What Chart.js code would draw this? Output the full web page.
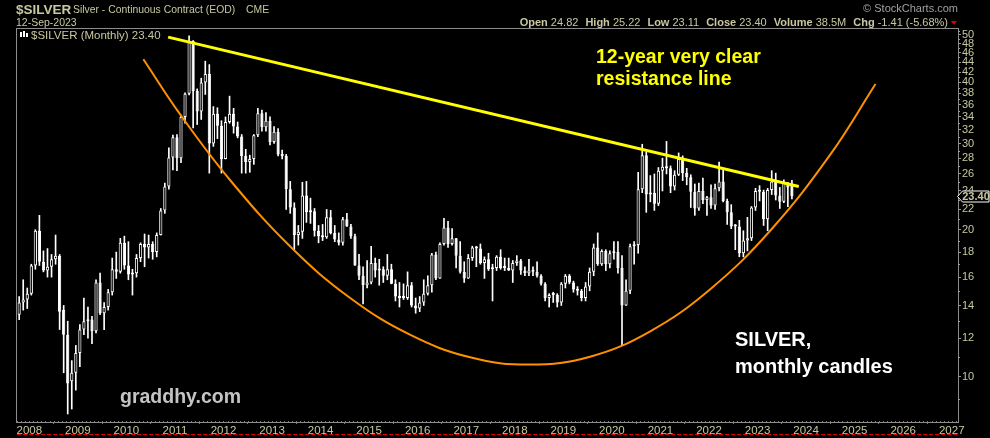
<!DOCTYPE html>
<html>
<head>
<meta charset="utf-8">
<title>$SILVER monthly</title>
<script src="https://cdn.jsdelivr.net/npm/chart.js@4.4.1/dist/chart.umd.min.js"></script>
<style>
    html, body { margin: 0; padding: 0; background: #000; }
    #wrap { width: 990px; height: 438px; }
    canvas { display: block; background: #000; }
</style>
</head>
<body>
<div id="wrap"><canvas id="silverChart" width="990" height="438"></canvas></div>
<script>
// ===================================
// DATA (monthly candles, Oct 2007 - Sep 2023)
// ===================================

const firstYear = 2007;
const firstMonth = 10;

const opens = [
    13.40, 14.20, 14.40,                                                           // 2007
    14.80, 16.90, 19.90, 17.20, 16.50, 16.80, 17.40, 17.70, 13.70, 12.20, 9.80, 10.20,   // 2008
    11.20, 12.50, 13.00, 13.10, 12.40, 15.60, 13.50, 13.90, 14.90, 16.60, 16.40, 18.80,  // 2009
    16.90, 16.20, 16.30, 17.50, 18.70, 18.40, 18.70, 18.00, 19.50, 21.90, 24.50, 28.10,  // 2010
    30.90, 28.00, 34.00, 37.90, 48.60, 38.40, 34.90, 40.00, 41.60, 30.00, 34.50, 32.60,  // 2011
    27.90, 33.20, 34.50, 32.50, 31.00, 28.30, 27.50, 27.90, 31.20, 34.60, 32.40, 33.40,  // 2012
    30.20, 31.70, 28.50, 28.30, 24.20, 22.20, 19.50, 19.80, 23.50, 21.70, 21.80, 19.90,  // 2013
    19.40, 19.30, 21.20, 19.70, 19.10, 18.80, 21.00, 20.30, 19.40, 16.90, 16.10, 15.40,  // 2014
    15.60, 17.10, 16.50, 16.60, 16.10, 16.60, 15.50, 14.60, 14.50, 14.50, 15.40, 14.00,  // 2015
    13.80, 14.20, 14.80, 15.40, 17.80, 15.90, 18.70, 20.20, 18.70, 19.20, 17.70, 16.40,  // 2016
    15.90, 17.50, 18.40, 18.30, 17.10, 17.40, 16.60, 16.70, 17.60, 16.70, 16.70, 16.50,  // 2017
    17.10, 17.30, 16.50, 16.30, 16.50, 16.40, 16.10, 15.50, 14.50, 14.70, 14.70, 14.20,  // 2018
    15.50, 16.10, 15.60, 15.10, 15.00, 14.50, 15.30, 16.40, 18.40, 17.00, 18.10, 17.00,  // 2019
    17.90, 18.00, 16.70, 14.00, 15.00, 18.50, 18.60, 24.20, 28.40, 23.60, 23.80, 22.60,  // 2020
    26.40, 26.90, 26.70, 24.50, 25.90, 27.90, 26.10, 25.60, 23.90, 22.10, 24.00, 23.00,  // 2021
    23.30, 22.40, 24.30, 25.10, 22.90, 21.70, 20.30, 20.30, 17.90, 19.00, 19.20, 22.20,  // 2022
    24.00, 23.90, 21.00, 24.10, 25.10, 23.50, 22.80, 24.90, 24.82                        // 2023
];

const highs = [
    14.60, 15.80, 15.20,
    17.00, 20.00, 21.40, 18.10, 18.30, 17.80, 19.50, 17.80, 14.00, 13.00, 10.80, 11.60,
    12.80, 14.50, 13.90, 13.30, 15.80, 16.30, 14.20, 15.10, 17.50, 18.00, 19.20, 19.40,
    18.90, 16.60, 17.80, 18.80, 19.60, 19.50, 18.90, 19.70, 22.10, 24.90, 29.40, 31.20,
    31.30, 34.30, 38.10, 49.80, 48.70, 38.80, 40.80, 44.20, 43.50, 35.70, 35.50, 33.40,
    34.00, 37.50, 35.40, 33.20, 31.30, 29.20, 28.40, 31.30, 35.40, 35.10, 34.70, 34.00,
    32.50, 32.20, 29.10, 28.50, 25.10, 22.70, 20.40, 25.00, 25.10, 23.20, 22.10, 20.40,
    20.50, 22.00, 21.90, 20.40, 19.70, 21.20, 21.60, 20.50, 19.60, 17.80, 16.80, 17.30,
    18.50, 17.50, 17.40, 16.80, 17.80, 17.00, 15.80, 15.60, 15.50, 16.40, 15.60, 14.50,
    14.60, 15.80, 16.10, 17.90, 18.00, 18.80, 21.10, 20.80, 20.10, 19.20, 18.90, 17.20,
    17.80, 18.50, 18.50, 18.70, 17.60, 17.90, 17.00, 17.70, 18.20, 17.50, 17.50, 17.30,
    17.70, 17.40, 16.80, 17.40, 16.80, 17.20, 16.20, 15.60, 14.80, 14.90, 14.80, 15.60,
    16.20, 16.20, 15.70, 15.30, 15.10, 15.60, 16.70, 18.70, 19.70, 18.20, 18.20, 18.10,
    18.90, 18.90, 17.70, 15.80, 18.70, 18.90, 26.20, 29.90, 28.80, 25.80, 26.00, 26.80,
    28.00, 30.30, 27.00, 26.40, 28.70, 28.30, 26.70, 25.90, 24.80, 24.90, 25.50, 23.40,
    24.70, 24.80, 27.50, 26.50, 23.10, 22.50, 20.50, 20.90, 19.90, 21.20, 22.30, 24.30,
    24.60, 24.10, 24.30, 26.40, 26.10, 24.40, 25.30, 25.00, 25.22
];

const lows = [
    13.10, 13.70, 13.80,
    14.70, 16.60, 16.90, 16.40, 16.00, 16.00, 17.00, 12.50, 10.20, 8.40, 8.60, 9.40,
    10.50, 12.20, 12.00, 11.70, 12.30, 13.40, 12.50, 13.70, 14.70, 15.90, 16.30, 16.60,
    15.80, 14.70, 16.00, 17.20, 16.80, 17.50, 17.40, 17.60, 19.50, 21.60, 24.20, 26.50,
    26.40, 27.40, 33.00, 37.70, 32.30, 32.80, 33.60, 37.80, 26.10, 29.60, 30.70, 26.10,
    27.90, 33.00, 31.50, 30.80, 26.10, 26.10, 26.20, 27.20, 31.00, 31.80, 31.80, 29.80,
    30.00, 28.30, 27.90, 22.00, 21.60, 18.20, 18.60, 19.20, 20.70, 20.60, 19.40, 18.80,
    19.00, 19.20, 19.60, 18.90, 18.60, 18.60, 20.30, 19.20, 16.90, 15.80, 14.10, 15.20,
    15.50, 16.00, 15.40, 15.60, 15.80, 15.50, 14.30, 13.90, 14.40, 14.40, 13.90, 13.50,
    13.60, 14.00, 14.70, 14.90, 15.80, 15.90, 18.60, 18.40, 18.60, 16.70, 16.30, 15.60,
    15.90, 17.30, 16.80, 17.00, 15.90, 16.50, 14.30, 16.50, 16.60, 16.50, 16.50, 15.60,
    16.90, 16.20, 16.10, 16.10, 16.10, 16.00, 15.40, 14.30, 13.90, 14.20, 13.90, 14.00,
    15.20, 15.50, 14.90, 14.70, 14.30, 14.30, 15.00, 16.10, 16.90, 16.90, 16.50, 16.70,
    17.40, 16.30, 11.60, 14.00, 14.80, 17.00, 17.90, 23.80, 21.70, 22.80, 21.90, 22.40,
    24.00, 26.00, 23.80, 24.10, 25.80, 25.20, 24.70, 22.20, 21.40, 21.90, 22.60, 21.40,
    22.10, 22.00, 24.00, 22.80, 20.50, 20.10, 18.20, 17.60, 17.60, 18.10, 19.00, 21.90,
    22.90, 20.40, 19.90, 23.60, 23.00, 22.10, 22.70, 22.30, 23.11
];

const closes = [
    14.20, 14.40, 14.80,
    16.90, 19.90, 17.20, 16.50, 16.80, 17.40, 17.70, 13.60, 12.20, 9.70, 10.20, 11.20,
    12.50, 13.00, 13.10, 12.40, 15.60, 13.50, 13.90, 14.90, 16.60, 16.40, 18.80, 16.90,
    16.20, 16.30, 17.50, 18.70, 18.40, 18.70, 18.00, 19.50, 21.90, 24.50, 28.10, 30.90,
    28.00, 34.00, 37.90, 48.60, 38.40, 34.90, 40.00, 41.60, 30.00, 34.50, 32.60, 27.90,
    33.20, 34.50, 32.50, 31.00, 28.30, 27.50, 27.90, 31.20, 34.60, 32.40, 33.40, 30.20,
    31.70, 28.50, 28.30, 24.20, 22.20, 19.50, 19.80, 23.50, 21.70, 21.80, 19.90, 19.40,
    19.30, 21.20, 19.70, 19.10, 18.80, 21.00, 20.30, 19.40, 16.90, 16.10, 15.40, 15.60,
    17.10, 16.50, 16.60, 16.10, 16.60, 15.50, 14.60, 14.50, 14.50, 15.40, 14.00, 13.80,
    14.20, 14.80, 15.40, 17.80, 15.90, 18.70, 20.20, 18.70, 19.20, 17.70, 16.40, 15.90,
    17.50, 18.40, 18.30, 17.10, 17.40, 16.60, 16.70, 17.60, 16.70, 16.70, 16.50, 17.10,
    17.30, 16.50, 16.30, 16.50, 16.40, 16.10, 15.50, 14.50, 14.70, 14.70, 14.20, 15.50,
    16.10, 15.60, 15.10, 15.00, 14.50, 15.30, 16.40, 18.40, 17.00, 18.10, 17.00, 17.90,
    18.00, 16.70, 14.00, 15.00, 18.50, 18.60, 24.20, 28.40, 23.60, 23.80, 22.60, 26.40,
    26.90, 26.70, 24.50, 25.90, 27.90, 26.10, 25.60, 23.90, 22.10, 24.00, 23.00, 23.30,
    22.40, 24.30, 25.10, 22.90, 21.70, 20.30, 20.30, 17.90, 19.00, 19.20, 22.20, 24.00,
    23.90, 21.00, 24.10, 25.10, 23.50, 22.80, 24.90, 24.40, 23.40
];

// drawn overlays (decimal year, price)
const resistanceDates = [2010.86, 2023.85];
const resistancePrices = [49.5, 24.5];

const arcDates = [2010.35, 2011.10, 2012.13, 2013.37, 2014.61, 2015.84, 2017.08, 2018.31,
                  2019.55, 2020.79, 2022.02, 2023.26, 2024.49, 2025.43];
const arcPrices = [44.6, 34.5, 25.3, 18.5, 14.5, 12.2, 10.97, 10.6,
                   11.0, 12.4, 15.1, 19.9, 28.4, 39.7];

const priceTicks = [10, 12, 14, 16, 18, 20, 22, 24, 26, 28, 30, 32, 34, 36, 38, 40, 42, 44, 46, 48, 50];
const yearTicks = [2008, 2009, 2010, 2011, 2012, 2013, 2014, 2015, 2016, 2017,
                   2018, 2019, 2020, 2021, 2022, 2023, 2024, 2025, 2026, 2027];

// ===================================
// COLORS / FONTS
// ===================================

const colors = {
    bg: '#000000',
    text: '#c8c8a0',
    frame: '#8c8c8c',
    candle: '#ffffff',
    resistance: '#ffff00',
    arc: '#ff9000',
    red: '#e00000',
    watermark: '#c4c4c4'
};

const fontFamily = "'Liberation Sans', Arial, sans-serif";

// month centre as decimal year
function monthX(i) {
    return firstYear + (firstMonth - 1 + i + 0.5) / 12;
}

const wickData = highs.map((h, i) => ({ x: monthX(i), y: [lows[i], h] }));
const bodyData = opens.map((o, i) => ({ x: monthX(i), y: [o, closes[i]] }));
const resistanceData = resistanceDates.map((d, i) => ({ x: d, y: resistancePrices[i] }));
const arcData = arcDates.map((d, i) => ({ x: d, y: arcPrices[i] }));

const isUp = i => closes[i] >= opens[i];

// ===================================
// DECORATION PLUGIN (header, frame, labels)
// ===================================

const stockChartsDecor = {
    id: 'stockChartsDecor',
    beforeDraw(chart) {
        const ctx = chart.ctx;
        ctx.save();
        ctx.fillStyle = colors.bg;
        ctx.fillRect(0, 0, chart.width, chart.height);
        ctx.restore();
    },
    afterDraw(chart) {
        const ctx = chart.ctx;
        const area = chart.chartArea;
        const x = chart.scales.x;
        const y = chart.scales.y;
        const last = closes.length - 1;
        ctx.save();

        // plot frame
        ctx.strokeStyle = colors.frame;
        ctx.lineWidth = 1;
        ctx.strokeRect(area.left - 0.5, area.top - 0.5, area.right - area.left + 1, area.bottom - area.top + 1);

        // minor ticks: odd prices on the right, months along the bottom
        ctx.strokeStyle = '#999';
        ctx.beginPath();
        for (let v = 9; v <= 51; v += 2) {
            const py = Math.round(y.getPixelForValue(v)) + 0.5;
            ctx.moveTo(area.right, py);
            ctx.lineTo(area.right + 2, py);
        }
        ctx.stroke();
        ctx.strokeStyle = '#777';
        ctx.beginPath();
        for (let m = 0; m < 12 * 20; m++) {
            const t = 2007.75 + m / 12;
            if (t > x.max) break;
            const px = Math.round(x.getPixelForValue(t)) + 0.5;
            ctx.moveTo(px, area.bottom - 1);
            ctx.lineTo(px, area.bottom);
        }
        ctx.stroke();

        // header
        ctx.textBaseline = 'alphabetic';
        ctx.textAlign = 'left';
        ctx.fillStyle = colors.text;
        ctx.font = 'bold 13.5px ' + fontFamily;
        ctx.fillText('$SILVER', 16, 13.5);
        ctx.font = '10.4px ' + fontFamily;
        ctx.fillText('Silver - Continuous Contract (EOD)', 73, 12.5);
        ctx.fillText('CME', 246, 12.5);
        ctx.font = '10.5px ' + fontFamily;
        ctx.fillText('12-Sep-2023', 16, 26);

        ctx.fillStyle = '#a0a0a0';
        ctx.textAlign = 'right';
        ctx.font = '11px ' + fontFamily;
        ctx.fillText('\u00a9 StockCharts.com', 958, 12);

        // OHLC summary line, right aligned
        const parts = [
            ['Open', opens[last].toFixed(2)],
            ['High', highs[last].toFixed(2)],
            ['Low', lows[last].toFixed(2)],
            ['Close', closes[last].toFixed(2)],
            ['Volume', '38.5M'],
            ['Chg', '-1.41 (-5.68%)']
        ];
        const boldFont = 'bold 11px ' + fontFamily;
        const normFont = '11px ' + fontFamily;
        let total = 0;
        parts.forEach(([label, val], k) => {
            ctx.font = boldFont;
            total += ctx.measureText(label + ' ').width;
            ctx.font = normFont;
            total += ctx.measureText(val).width + (k < parts.length - 1 ? 7 : 0);
        });
        let px = 948 - total;
        ctx.textAlign = 'left';
        ctx.fillStyle = colors.text;
        parts.forEach(([label, val]) => {
            ctx.font = boldFont;
            ctx.fillText(label + ' ', px, 26);
            px += ctx.measureText(label + ' ').width;
            ctx.font = normFont;
            ctx.fillText(val, px, 26);
            px += ctx.measureText(val).width + 7;
        });
        ctx.fillStyle = colors.red;
        ctx.beginPath();
        ctx.moveTo(951, 21);
        ctx.lineTo(957, 21);
        ctx.lineTo(954, 25);
        ctx.closePath();
        ctx.fill();

        // legend inside plot
        ctx.fillStyle = '#ffffff';
        ctx.fillRect(20, 32, 2, 5);
        ctx.fillRect(23, 31, 2, 6);
        ctx.fillRect(26, 33, 2, 4);
        ctx.fillStyle = colors.text;
        ctx.font = '11.5px ' + fontFamily;
        ctx.fillText('$SILVER (Monthly) ' + closes[last].toFixed(2), 31, 39);

        // annotations
        ctx.fillStyle = colors.resistance;
        ctx.font = 'bold 19.5px ' + fontFamily;
        ctx.fillText('12-year very clear', 596, 63);
        ctx.fillText('resistance line', 596, 85);

        ctx.fillStyle = '#ffffff';
        ctx.font = 'bold 20px ' + fontFamily;
        ctx.fillText('SILVER,', 735, 346);
        ctx.fillText('monthly candles', 735, 373);

        ctx.fillStyle = colors.watermark;
        ctx.font = 'bold 19.5px ' + fontFamily;
        ctx.fillText('graddhy.com', 120, 403);

        // last price box on right axis
        const py = Math.round(y.getPixelForValue(closes[last])) + 0.5;
        ctx.beginPath();
        ctx.moveTo(957.5, py);
        ctx.lineTo(962.5, py - 5.5);
        ctx.lineTo(989, py - 5.5);
        ctx.lineTo(989, py + 5.5);
        ctx.lineTo(962.5, py + 5.5);
        ctx.closePath();
        ctx.fillStyle = colors.bg;
        ctx.fill();
        ctx.strokeStyle = '#ffffff';
        ctx.stroke();
        ctx.fillStyle = colors.text;
        ctx.font = 'bold 11px ' + fontFamily;
        ctx.textAlign = 'center';
        ctx.textBaseline = 'middle';
        ctx.fillText(closes[last].toFixed(2), 976, py + 0.5);

        // red dashed line under the date axis
        ctx.strokeStyle = colors.red;
        ctx.setLineDash([4, 2]);
        ctx.beginPath();
        ctx.moveTo(area.left, 434.5);
        ctx.lineTo(area.right, 434.5);
        ctx.stroke();

        ctx.restore();
    }
};

// ===================================
// CHART
// ===================================

Chart.defaults.font.family = fontFamily;
Chart.defaults.color = colors.text;

new Chart(document.getElementById('silverChart').getContext('2d'), {
    type: 'bar',
    data: {
        datasets: [
            {
                type: 'line',
                data: resistanceData,
                borderColor: colors.resistance,
                borderWidth: 3,
                pointRadius: 0,
                order: 0
            },
            {
                type: 'line',
                data: arcData,
                borderColor: colors.arc,
                borderWidth: 2,
                pointRadius: 0,
                tension: 0.4,
                order: 1
            },
            {
                data: bodyData,
                grouped: false,
                barPercentage: 0.8,
                categoryPercentage: 1,
                backgroundColor: ctx => isUp(ctx.dataIndex) ? colors.bg : colors.candle,
                borderColor: colors.candle,
                borderWidth: 1,
                borderSkipped: false,
                minBarLength: 2,
                order: 2
            },
            {
                data: wickData,
                grouped: false,
                barThickness: 1,
                backgroundColor: colors.candle,
                borderWidth: 0,
                order: 3
            }
        ]
    },
    options: {
        responsive: false,
        animation: false,
        events: [],
        layout: { padding: { left: 17, top: 29, right: 0, bottom: 0 } },
        plugins: {
            legend: { display: false },
            tooltip: { enabled: false }
        },
        scales: {
            x: {
                type: 'linear',
                offset: false,
                min: 2007.747,
                max: 2027.129,
                afterFit: scale => { scale.height = 16; },
                afterBuildTicks: scale => { scale.ticks = yearTicks.map(v => ({ value: v })); },
                grid: { drawOnChartArea: false, drawTicks: true, tickLength: 2, color: '#777' },
                border: { display: false },
                ticks: {
                    color: colors.text,
                    font: { size: 11.5 },
                    padding: 0,
                    autoSkip: false,
                    maxRotation: 0,
                    minRotation: 0,
                    callback: v => String(v)
                }
            },
            y: {
                type: 'logarithmic',
                position: 'right',
                min: 8.09,
                max: 51.43,
                afterFit: scale => { scale.width = 32; },
                afterBuildTicks: scale => { scale.ticks = priceTicks.map(v => ({ value: v })); },
                grid: { drawOnChartArea: false, drawTicks: true, tickLength: 3, color: '#999' },
                border: { display: false },
                ticks: {
                    color: colors.text,
                    font: { size: 11 },
                    padding: 1,
                    autoSkip: false,
                    callback: v => String(v)
                }
            }
        }
    },
    plugins: [stockChartsDecor]
});
</script>
</body>
</html>
